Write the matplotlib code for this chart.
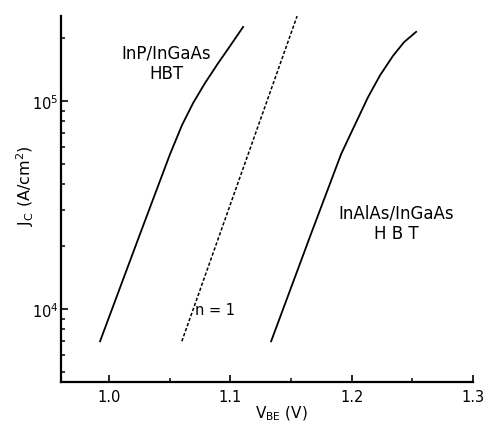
"""Gummel-style J_C vs V_BE comparison of InP and InAlAs emitter HBTs."""

import matplotlib

matplotlib.use("Agg")
import matplotlib.pyplot as plt
from matplotlib.ticker import FixedLocator, LogLocator, NullFormatter

# values
inp_vbe = [0.9926, 1.0256, 1.0503, 1.0602, 1.0693, 1.0791, 1.0899, 1.0998, 1.1105]
inp_jc = [7.0e3, 2.30e4, 5.56e4, 7.67e4, 9.78e4, 1.22e5, 1.52e5, 1.84e5, 2.27e5]

inalas_vbe = [1.1336, 1.1665, 1.1913, 1.1987, 1.2053, 1.2135, 1.2234, 1.2341, 1.2432, 1.2531]
inalas_jc = [7.0e3, 2.30e4, 5.56e4, 6.87e4, 8.28e4, 1.045e5, 1.33e5, 1.65e5, 1.92e5, 2.15e5]

ideal_vbe = [1.060, 1.155]
ideal_jc = [7.0e3, 2.56e5]

x_ticks = [1.0, 1.1, 1.2, 1.3]
x_minor = [1.05, 1.15, 1.25]


def main():
    plt.rcParams["font.family"] = ["DejaVu Sans"]
    plt.rcParams["mathtext.default"] = "regular"
    fig = plt.figure(figsize=(4.86, 4.27), dpi=100)
    ax = fig.add_axes([0.1255, 0.103, 0.8478, 0.857])

    ax.plot(inp_vbe, inp_jc, color="black", lw=1.3, solid_joinstyle="round")
    ax.plot(inalas_vbe, inalas_jc, color="black", lw=1.3, solid_joinstyle="round")
    ax.plot(ideal_vbe, ideal_jc, color="black", lw=1.1, linestyle=(0, (2.2, 1.3)))

    ax.set_yscale("log")
    ax.set_xlim(0.9604, 1.3)
    ax.set_ylim(4.46e3, 2.56e5)

    ax.xaxis.set_major_locator(FixedLocator(x_ticks))
    ax.xaxis.set_minor_locator(FixedLocator(x_minor))
    ax.set_xticklabels([f"{v:.1f}" for v in x_ticks])
    ax.yaxis.set_major_locator(LogLocator(base=10))
    ax.yaxis.set_minor_locator(LogLocator(base=10, subs=range(2, 10)))
    ax.yaxis.set_minor_formatter(NullFormatter())

    for side in ("top", "right"):
        ax.spines[side].set_visible(False)
    for side in ("left", "bottom"):
        ax.spines[side].set_linewidth(1.6)
    ax.tick_params(which="major", direction="in", length=5, width=1.2,
                   labelsize=10.5, pad=5)
    ax.tick_params(which="minor", direction="in", length=3, width=1.1)
    ax.tick_params(axis="y", which="major", pad=2)

    ax.set_xlabel("V$_{BE}$ (V)", fontsize=11)
    ax.xaxis.set_label_coords(0.534, -0.058)
    ax.set_ylabel("J$_C$ (A/cm$^2$)", fontsize=11.5)
    ax.yaxis.set_label_coords(-0.06, 0.54)

    ax.text(1.047, 1.53e5, "InP/InGaAs\nHBT", ha="center", va="center",
            fontsize=12, linespacing=1.2)
    ax.text(1.237, 2.6e4, "InAlAs/InGaAs\nH B T", ha="center", va="center",
            fontsize=12, linespacing=1.2)
    ax.text(1.0875, 1.0e4, "n = 1", ha="center", va="center", fontsize=10.5)

    fig.savefig("out.png", dpi=100)
    plt.close(fig)


if __name__ == "__main__":
    main()
